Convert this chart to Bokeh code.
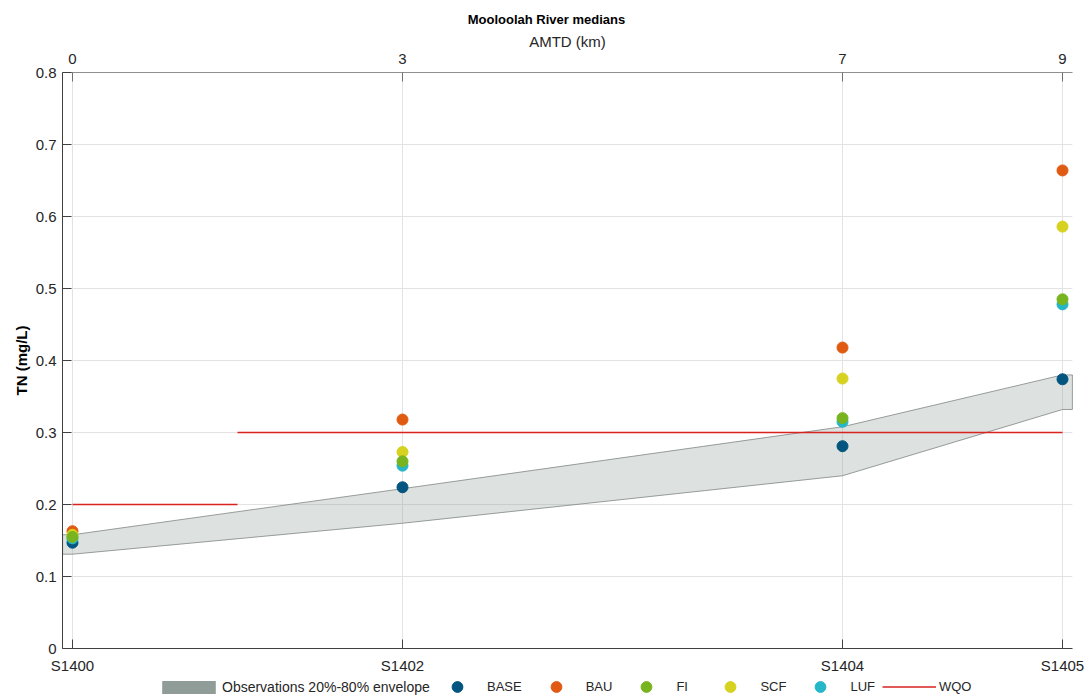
from bokeh.plotting import figure
from bokeh.models import (Range1d, FixedTicker, LinearAxis, Legend, LegendItem)
from bokeh.embed import file_html
from bokeh.resources import INLINE

# ---- data ----
amtd = [0, 3, 7, 9]
sites = ["S1400", "S1402", "S1404", "S1405"]
base = [0.147, 0.224, 0.281, 0.374]
bau = [0.163, 0.318, 0.418, 0.664]
fi = [0.155, 0.260, 0.320, 0.485]
scf = [0.158, 0.273, 0.375, 0.586]
luf = [0.153, 0.254, 0.315, 0.478]
env_lo = [0.131, 0.174, 0.240, 0.332]
env_hi = [0.158, 0.222, 0.308, 0.380]
wqo_x = [[0, 1.5], [1.5, 9]]
wqo_y = [[0.2, 0.2], [0.3, 0.3]]
y_ticks = [0, 0.1, 0.2, 0.3, 0.4, 0.5, 0.6, 0.7, 0.8]
y_labels = ["0", "0.1", "0.2", "0.3", "0.4", "0.5", "0.6", "0.7", "0.8"]

# axes box (data units) and the wider view that also holds labels + legend
XMIN, XMAX = -0.09, 9.09
YMIN, YMAX = 0.0, 0.8
XVIEW = (-0.6545, 9.2727)
YVIEW = (-0.068, 0.8556)
FONT = "Liberation Sans"
TXT = "#262626"
GRID = "#e3e3e3"

p = figure(frame_width=1092, frame_height=665, output_backend="svg",
           toolbar_location=None,
           x_range=Range1d(*XVIEW), y_range=Range1d(*YVIEW),
           min_border_left=0, min_border_right=0, min_border_top=32,
           min_border_bottom=0)
p.outline_line_color = None
p.background_fill_color = "white"

p.title.text = "Mooloolah River medians"
p.title.align = "center"
p.title.text_font = FONT
p.title.text_font_size = "13px"
p.title.text_font_style = "bold"
p.title.text_color = "#000000"
p.title.standoff = 12

# axes
xa = p.xaxis[0]
xa.ticker = FixedTicker(ticks=amtd)
xa.major_label_overrides = {a: s for a, s in zip(amtd, sites)}
xa.fixed_location = YMIN
xa.bounds = (XMIN, XMAX)
ya = p.yaxis[0]
ya.ticker = FixedTicker(ticks=y_ticks)
ya.major_label_overrides = {t: l for t, l in zip(y_ticks, y_labels)}
ya.axis_label = "TN (mg/L)"
ya.bounds = (YMIN, YMAX)
ya.fixed_location = XMIN

top = LinearAxis(ticker=FixedTicker(ticks=amtd), axis_label="AMTD (km)",
                 bounds=(XMIN, XMAX), fixed_location=YMAX)
top.major_label_overrides = {a: str(a) for a in amtd}
p.add_layout(top, "above")

for ax in (xa, ya, top):
    ax.major_tick_in = 9
    ax.major_tick_out = 0
    ax.minor_tick_in = 0
    ax.minor_tick_out = 0
    ax.major_label_text_font = FONT
    ax.major_label_text_font_size = "15px"
    ax.major_label_text_color = TXT
    ax.axis_label_text_font = FONT
    ax.axis_label_text_color = TXT
    ax.axis_line_color = "#404040"
    ax.major_tick_line_color = "#404040"
    ax.major_label_standoff = 6
xa.major_label_standoff = 8
ya.axis_label_text_font_style = "bold"
ya.axis_label_text_font_size = "15px"
ya.axis_label_text_color = "#000000"
ya.axis_label_standoff = 3
top.axis_line_color = "#909090"
top.major_tick_line_color = "#707070"
top.axis_label_text_font_size = "15px"
top.axis_label_text_font_style = "normal"
top.axis_label_standoff = 1
top.major_label_standoff = 9

# grid (drawn only inside the axes box)
p.xgrid.visible = False
p.ygrid.visible = False
p.segment(x0=amtd, y0=[YMIN] * len(amtd), x1=amtd, y1=[YMAX] * len(amtd),
          line_color=GRID, line_width=1)
p.segment(x0=[XMIN] * len(y_ticks), y0=y_ticks, x1=[XMAX] * len(y_ticks),
          y1=y_ticks, line_color=GRID, line_width=1)

# envelope
ex = [XMIN] + amtd + [XMAX]
eh = [env_hi[0]] + env_hi + [env_hi[-1]]
el = [env_lo[0]] + env_lo + [env_lo[-1]]
p.patch(ex + ex[::-1], eh + el[::-1], fill_color="#8f9c98", fill_alpha=0.3,
        line_color="#7f8683", line_width=0.8)
# hidden copy with the solid colour, used only for the legend swatch
env_leg = p.patch(ex + ex[::-1], eh + el[::-1], fill_color="#8f9c98",
                  line_color=None, visible=False)

# WQO
wqo = p.multi_line(wqo_x, wqo_y, line_color="#d9231f", line_width=1.6)

S = 11
r_base = p.scatter(amtd, base, size=S, color="#02557f")
r_bau = p.scatter(amtd, bau, size=S, color="#e05a12")
r_scf = p.scatter(amtd, scf, size=S, color="#d6d21f")
r_luf = p.scatter(amtd, luf, size=S, color="#25b6c8")
r_fi = p.scatter(amtd, fi, size=S, color="#78b41e")

common = dict(orientation="horizontal", padding=0, margin=0,
              border_line_color=None, background_fill_alpha=0,
              label_text_font=FONT, label_text_color=TXT)

leg1 = Legend(items=[LegendItem(label="Observations 20%-80% envelope",
                                renderers=[env_leg])],
              location=(155, 2), glyph_width=67, glyph_height=16,
              label_height=16, label_standoff=0, spacing=0,
              label_text_font_size="14px", inactive_fill_alpha=0,
              click_policy="none", **common)
leg2 = Legend(items=[
    LegendItem(label="BASE", renderers=[r_base]),
    LegendItem(label="BAU", renderers=[r_bau]),
    LegendItem(label="FI", renderers=[r_fi]),
    LegendItem(label="SCF", renderers=[r_scf]),
    LegendItem(label="LUF", renderers=[r_luf]),
    LegendItem(label="WQO", renderers=[wqo]),
], location=(430, -3), glyph_width=54, glyph_height=27, label_height=27,
    label_standoff=3, spacing=7, label_text_font_size="13px", **common)
p.add_layout(leg1, "center")
p.add_layout(leg2, "center")

open("out.html", "w").write(file_html(p, INLINE))
